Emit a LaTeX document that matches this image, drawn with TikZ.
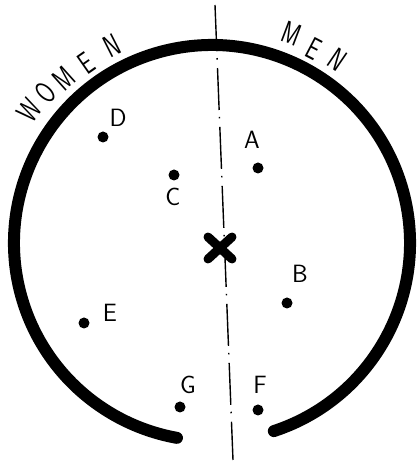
\documentclass[tikz,border=0pt]{standalone}
\usepackage{fontspec}
\usetikzlibrary{calc}
\newcommand\lblfont{\sffamily\fontsize{25}{25}\selectfont}
\newcommand\arcfont{\sffamily\fontsize{31}{31}\selectfont}
\tikzset{
  spot/.style={circle,fill,inner sep=0pt,minimum size=11pt},
  lbl/.style={font=\lblfont,inner sep=0pt},
  arclbl/.style={font=\arcfont,inner sep=0pt,rotate=#1,xscale=.7},
  axisline/.style={line width=1.4pt,dash pattern=on 42pt off 7pt on 1.5pt off 8.5pt,dash phase=36pt},
}
\begin{document}
\begin{tikzpicture}[x=1pt,y=1pt,line width=1.4pt]
  \useasboundingbox (0,0) rectangle (416,464);
  \coordinate (o) at (212,221);
  \coordinate (axtop) at (215,459);
  \coordinate (axbot) at (233,4);
  \coordinate (axmid) at ($(axtop)!0.088!(axbot)$);
  \coordinate (cross) at (220,216);
  % the ring, open at the bottom
  \draw[line width=12pt,line cap=round] ($(o)+(-71.8:198)$) arc[start angle=-71.8,end angle=259.8,radius=198];
  \draw (axtop)--(axmid);
  \draw[axisline] (axmid)--(axbot);
  \draw[line width=9pt,line cap=round] ($(cross)+(-12,11)$)--($(cross)+(12,-11)$);
  \draw[line width=9pt,line cap=round] ($(cross)+(-12,-11)$)--($(cross)+(12,11)$);
  % seats
  \node[spot] (d) at (103,327) {};
  \node[spot] (a) at (258,296) {};
  \node[spot] (c) at (174,289) {};
  \node[spot] (b) at (287,161) {};
  \node[spot] (e) at (84,141) {};
  \node[spot] (g) at (180,57) {};
  \node[spot] (f) at (258,54) {};
  \node[lbl] (dl) at (118,346) {D};
  \node[lbl] (al) at (252,324) {A};
  \node[lbl] (cl) at (173,267) {C};
  \node[lbl] (bl) at (300,190) {B};
  \node[lbl] (el) at (110,151) {E};
  \node[lbl] (gl) at (188,79) {G};
  \node[lbl] (fl) at (260,79) {F};
  % words round the ring
  \foreach \ch/\ang/\r [count=\i] in {W/144.1/226,O/137.9/224,M/132/221,E/124.9/219,N/116.9/221}
    \node[arclbl=\ang-90] (w\i) at ($(o)+(\ang:\r)$) {\ch};
  \foreach \ch/\ang/\r [count=\i] in {M/69.2/224,E/62.4/219,N/55.7/222}
    \node[arclbl=\ang-90] (m\i) at ($(o)+(\ang:\r)$) {\ch};
\end{tikzpicture}
\end{document}
